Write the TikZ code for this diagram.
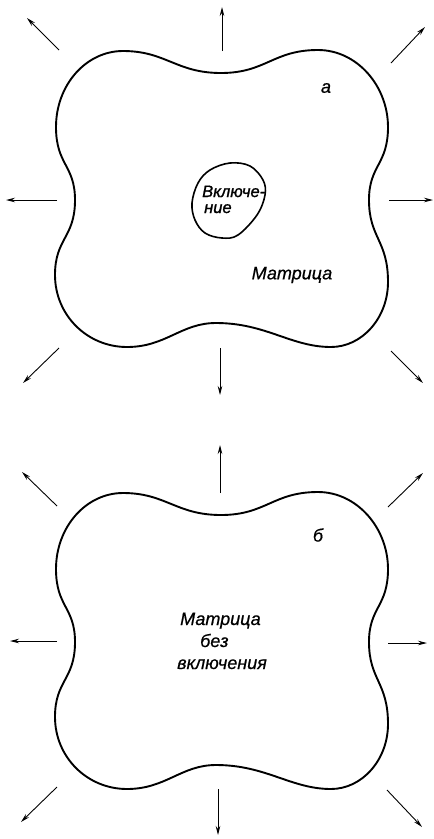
\documentclass[tikz,border=0pt]{standalone}
\usepackage{fontspec}
\setmainfont{Liberation Sans}
\newfontface\labfont{Liberation Sans Italic}[FakeBold=0.6]
\newfontface\incfont{Liberation Sans Italic}[FakeBold=1.2]
\usetikzlibrary{arrows.meta}
\tikzset{
  outline/.style={line width=1.9pt, line join=round},
  incline/.style={line width=1.6pt},
  force/.style={line width=0.9pt, -{Stealth[length=9pt,width=4.5pt]}},
  lbl/.style={font=\fontsize{18}{22}\selectfont\labfont, inner sep=0pt},
  inclbl/.style={font=\fontsize{16.5}{16}\selectfont\incfont, inner sep=0pt},
  matrixshape/.pic={
    \draw[outline] (0,-127)
      .. controls (45,-127) and (52,-150) .. (97,-150)
      .. controls (136,-150) and (167,-114) .. (167,-73)
      .. controls (167,-35) and (148,-35) .. (148,0)
      .. controls (148,38) and (167,40) .. (167,82)
      .. controls (167,118) and (141,147) .. (110,147)
      .. controls (70,147) and (45,123) .. (-5,123)
      .. controls (-40,123) and (-55,147) .. (-94,147)
      .. controls (-134,147) and (-166,115) .. (-166,75)
      .. controls (-166,38) and (-146,38) .. (-146,0)
      .. controls (-146,-35) and (-165,-35) .. (-165,-73)
      .. controls (-165,-115) and (-135,-149) .. (-98,-149)
      .. controls (-55,-149) and (-45,-127) .. (0,-127) -- cycle;
  }
}
\begin{document}
\begin{tikzpicture}[x=1pt, y=-1pt]
\useasboundingbox (0,0) rectangle (434,839);

% ---------- figure a ----------
\pic at (221,200) {matrixshape};
\draw[incline] plot[smooth cycle, tension=0.6] coordinates{
  (210,170) (230,163) (250,166) (263,180) (265,195) (257,215)
  (238,235) (222,238) (205,233) (195,220) (192,203) (198,183)};
\node[inclbl, anchor=base west, align=left] (inc) at (202,213)
  {Включе-\\\hspace*{2pt}ние};
\node[lbl] (labA) at (326,88) {а};
\node[lbl] (matA) at (292,275) {Матрица};

\foreach \n/\sx/\sy/\ex/\ey in {
  aN/222/51/222/7, aNW/59/50/27/18, aNE/391/63/425/27,
  aW/57/200/6/200, aE/389/200/433/200,
  aSW/59/348/23/383, aS/220/348/220/395, aSE/391/351/423/383,
  bN/220/493/220/445, bNW/57/506/22/472, bNE/388/507/423/473,
  bW/57/641/10/641, bE/388/643/427/643,
  bSW/57/787/21/822, bS/218/789/218/835, bSE/387/790/422/827}{
  \coordinate (\n-s) at (\sx,\sy);
  \coordinate (\n-e) at (\ex,\ey);
  \draw[force] (\n-s) -- (\n-e);
}

% ---------- figure b ----------
\pic at (221,642) {matrixshape};
\node[lbl] (labB) at (318,535) {б};
\node[lbl, anchor=base west, align=left] (matB) at (177,669)
  {\hspace*{3pt}Матрица\\\hspace*{23pt}без\\включения};
\end{tikzpicture}
\end{document}
